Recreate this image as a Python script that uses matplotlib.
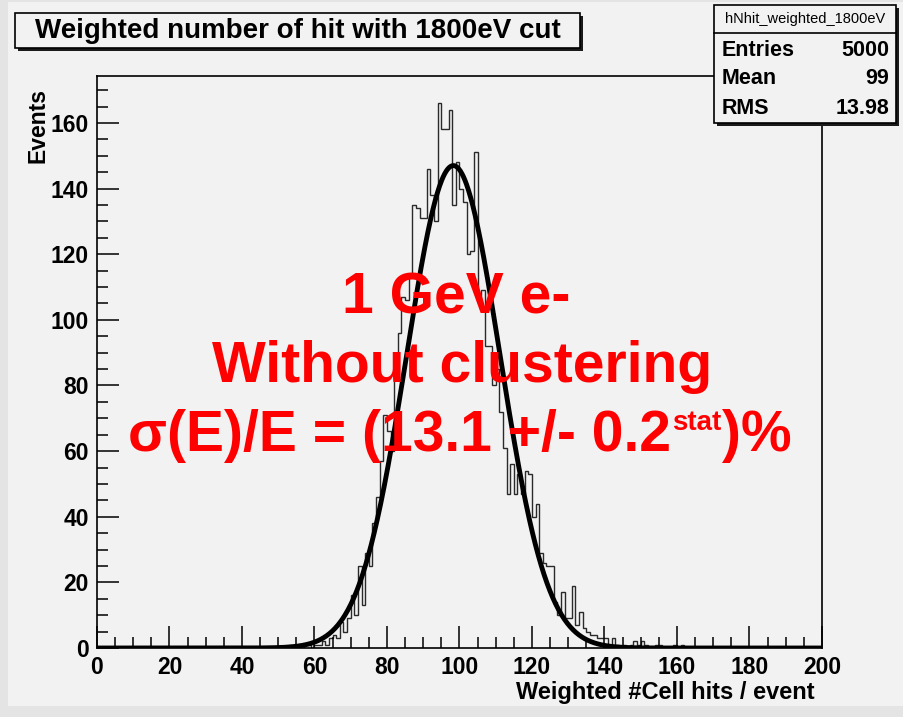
import numpy as np
import matplotlib
matplotlib.use("Agg")
import matplotlib.pyplot as plt
from matplotlib.patches import Rectangle

plt.rcParams['font.family'] = ['Liberation Sans', 'DejaVu Sans']
plt.rcParams['font.weight'] = 'bold'

# histogram: 200 bins of width 1 from 0 to 200, non-zero part starts at bin 53
first_bin = 53
counts_part = [1, 0, 1, 0, 1, 1, 0, 1, 1, 2, 1, 3, 4, 3, 8, 5, 9,            # 53-69
               16, 10, 25, 13, 29, 25, 38, 46, 57, 71,                     # 70-79
               66, 60, 86, 96, 107, 106, 113, 135, 134, 131,               # 80-89
               131, 146, 138, 130, 166, 158, 158, 164, 135, 148,           # 90-99
               140, 136, 120, 121, 151, 105, 109, 92, 92, 80,              # 100-109
               85, 72, 61, 47, 56, 47, 53, 47, 54, 53,                     # 110-119
               40, 44, 29, 26, 25, 25, 14, 10, 17, 9,                      # 120-129
               9, 19, 7, 11, 6, 5, 4, 4, 3, 3,                             # 130-139
               3, 1, 3, 1, 0, 1, 0, 1, 2, 1, 2, 1, 0, 0, 1, 1, 0, 0, 0, 1,  # 140-159
               0, 1]                                                       # 160-161
n_bins = 200
x_min, x_max = 0, 200

# gaussian fit parameters
fit_const = 147.0
fit_mean = 98.3
fit_sigma = 12.9

title = "Weighted number of hit with 1800eV cut"
stats_name = "hNhit_weighted_1800eV"
stats_rows = [("Entries", "5000"), ("Mean", "99"), ("RMS", "13.98")]
notes = ["1 GeV e-", "Without clustering"]
reso_parts = ["σ(E)/E = (13.1 +/- 0.2", "stat", ")%"]

counts = np.zeros(n_bins)
counts[first_bin:first_bin + len(counts_part)] = counts_part
edges = np.linspace(x_min, x_max, n_bins + 1)

W, H = 904, 717
fig = plt.figure(figsize=(W / 100, H / 100), dpi=100)
fig.patch.set_facecolor('#e4e4e4')


def fx(px):
    return px / W


def fy(py):
    return 1 - py / H


# canvas area
fig.add_artist(Rectangle((fx(8), fy(706)), fx(W - 8), (706 - 2) / H,
                         transform=fig.transFigure, facecolor='#f2f2f2',
                         edgecolor='none', zorder=0))

ax = fig.add_axes([fx(97), fy(648), (822 - 97) / W, (648 - 76) / H])
ax.set_facecolor('none')
ax.stairs(counts, edges, color='#2a2a2a', lw=1.0)
xs = np.linspace(x_min, x_max, 1000)
ax.plot(xs, fit_const * np.exp(-0.5 * ((xs - fit_mean) / fit_sigma) ** 2),
        color='black', lw=3.5, solid_capstyle='butt')

ax.set_xlim(x_min, x_max)
ax.set_ylim(0, 1.05 * max(counts))
ax.set_xticks(np.arange(0, 201, 20))
ax.set_xticks(np.arange(0, 201, 5), minor=True)
ax.set_yticks(np.arange(0, 161, 20))
ax.set_yticks(np.arange(0, 171, 5), minor=True)
ax.tick_params(which='major', direction='in', length=16, width=1.1,
               labelsize=16.5, pad=6)
ax.tick_params(which='minor', direction='in', length=8, width=1.1)
for s in ax.spines.values():
    s.set_linewidth(1.2)
for lab in ax.get_xticklabels() + ax.get_yticklabels():
    lab.set_fontweight('bold')

ax.set_xlabel("Weighted #Cell hits / event", fontsize=17, fontweight='bold',
              ha='right')
ax.xaxis.set_label_coords((815 - 97) / (822 - 97), -(693 - 648) / (648 - 76))
ax.xaxis.label.set_va('center')
ax.set_ylabel("Events", fontsize=16.5, fontweight='bold', ha='right')
ax.yaxis.set_label_coords(-(97 - 38) / (822 - 97), 1 - (88 - 76) / (648 - 76))
ax.yaxis.label.set_va('center')

# title box with shadow
tx0, ty0, tx1, ty1 = 15, 13, 580, 48
fig.add_artist(Rectangle((fx(tx0 + 3), fy(ty1 + 3)), fx(tx1 - tx0), (ty1 - ty0) / H,
                         transform=fig.transFigure, facecolor='#1a1a1a',
                         edgecolor='none', zorder=5))
fig.add_artist(Rectangle((fx(tx0), fy(ty1)), fx(tx1 - tx0), (ty1 - ty0) / H,
                         transform=fig.transFigure, facecolor='#f2f2f2',
                         edgecolor='black', lw=1.2, zorder=6))
fig.text(fx((tx0 + tx1) / 2), fy((ty0 + ty1) / 2 + 1), title, fontsize=20,
         fontweight='bold', ha='center', va='center', zorder=7)

# stats box
sx0, sy0, sx1, sy1 = 714, 5, 896, 123
fig.add_artist(Rectangle((fx(sx0 + 3), fy(sy1 + 3)), fx(sx1 - sx0), (sy1 - sy0) / H,
                         transform=fig.transFigure, facecolor='#1a1a1a',
                         edgecolor='none', zorder=5))
fig.add_artist(Rectangle((fx(sx0), fy(sy1)), fx(sx1 - sx0), (sy1 - sy0) / H,
                         transform=fig.transFigure, facecolor='#f2f2f2',
                         edgecolor='black', lw=1.2, zorder=6))
fig.add_artist(plt.Line2D([fx(sx0), fx(sx1)], [fy(33), fy(33)],
                          transform=fig.transFigure, color='black', lw=1.2, zorder=7))
fig.text(fx((sx0 + sx1) / 2), fy(19), stats_name, fontsize=10.5,
         fontweight='normal', ha='center', va='center', zorder=7)
for i, (name, val) in enumerate(stats_rows):
    yy = 50 + i * 29
    fig.text(fx(722), fy(yy), name, fontsize=15.5, fontweight='bold',
             ha='left', va='center', zorder=7)
    fig.text(fx(889), fy(yy), val, fontsize=15.5, fontweight='bold',
             ha='right', va='center', zorder=7)

# red annotation
note_pos = [(456, 313), (462, 382)]
for txt, (px, py) in zip(notes, note_pos):
    fig.text(fx(px), fy(py), txt, fontsize=41, fontweight='bold', color='#ff0000',
             ha='center', va='baseline', zorder=8)

# resolution line with a small "stat" superscript
renderer = fig.canvas.get_renderer()
sizes = [41, 20, 41]
rises = [0, 21, 0]
pieces = [fig.text(0, 0, t, fontsize=s, fontweight='bold', color='#ff0000',
                   ha='left', va='baseline', zorder=8)
          for t, s in zip(reso_parts, sizes)]
widths = [p.get_window_extent(renderer).width for p in pieces]
x_cur = 460 - (sum(widths) + 2) / 2
for p, w, r in zip(pieces, widths, rises):
    p.set_position((fx(x_cur), fy(451 - r)))
    x_cur += w + 1

fig.savefig('out.png', dpi=100, facecolor=fig.get_facecolor())
